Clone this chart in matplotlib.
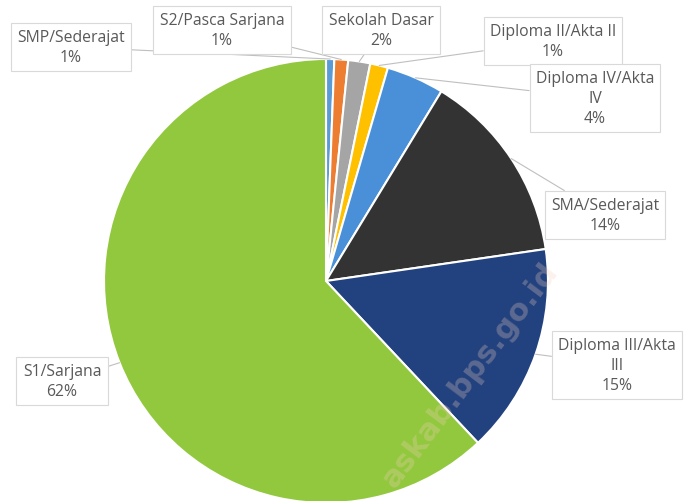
import matplotlib
matplotlib.use("Agg")
import matplotlib.pyplot as plt
import numpy as np

categories = ["SMP/Sederajat", "S2/Pasca Sarjana", "Sekolah Dasar", "Diploma II/Akta II",
              "Diploma IV/Akta\nIV", "SMA/Sederajat", "Diploma III/Akta\nIII", "S1/Sarjana"]
values = [0.6, 1.0, 1.6, 1.3, 4.2, 14.0, 15.3, 62.0]
colors = ["#5B9BD5", "#ED7D31", "#A5A5A5", "#FFC000", "#4A90D9", "#333333", "#22427F", "#92C83E"]

# label box centres (image pixel coords, y downward)
label_pos = [(71, 48), (222, 31), (381, 31), (553, 42), (595, 99), (605, 216), (617, 366), (62, 382)]

W, H = 684, 502
fig = plt.figure(figsize=(W / 100, H / 100), dpi=100)
ax = fig.add_axes([0, 0, 1, 1])

cx, cy, r = 326, H - 282, 222
wedges, _ = ax.pie(values, colors=colors, startangle=90, counterclock=False,
                   center=(cx, cy), radius=r, frame=True,
                   wedgeprops=dict(edgecolor="white", linewidth=1.5))
ax.set_xlim(0, W)
ax.set_ylim(0, H)
ax.set_aspect("equal")
ax.axis("off")

font = ["Open Sans", "DejaVu Sans"]
for w, cat, v, (lx, ly) in zip(wedges, categories, values, label_pos):
    ang = np.deg2rad((w.theta1 + w.theta2) / 2)
    ex, ey = cx + r * np.cos(ang), cy + r * np.sin(ang)
    txt = f"{cat}\n{v:.0f}%"
    ax.annotate(txt, xy=(ex, ey), xytext=(lx, H - ly), ha="center", va="center",
                fontsize=11.3, color="#595959", family=font, linespacing=1.3,
                bbox=dict(boxstyle="square,pad=0.4", fc="white", ec="#D9D9D9", lw=0.8),
                arrowprops=dict(arrowstyle="-", color="#BFBFBF", lw=0.8,
                                shrinkA=0, shrinkB=0))

ax.text(470, H - 375, "askab.bps.go.id", rotation=53, fontsize=22, color="#F5D0C0",
        alpha=0.28, ha="center", va="center", family="DejaVu Sans", fontweight="bold",
        zorder=10)

fig.savefig("out.png", dpi=100)
